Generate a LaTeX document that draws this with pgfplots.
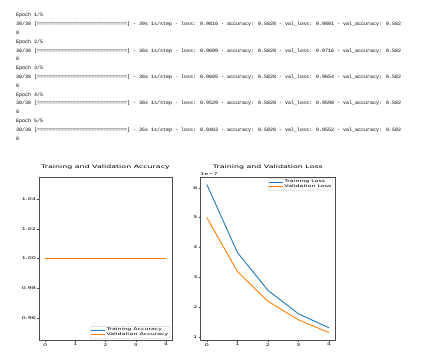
\documentclass[border=0pt]{standalone}
\usepackage{pgfplots}
\pgfplotsset{compat=1.18}
\usepackage{fontspec}
\setmainfont{DejaVu Sans}
\newfontfamily\consolefont{Liberation Mono}
\definecolor{tabblue}{HTML}{1F77B4}
\definecolor{taborange}{HTML}{FF7F0E}
\newcommand{\sq}[1]{\scalebox{1}[0.6]{#1}}
\pgfplotsset{
  mpl/.style={
    scale only axis,
    clip=false,
    height=163pt,
    xmin=-0.2, xmax=4.2,
    xtick={0,1,2,3,4},
    tick pos=left,
    tick align=outside,
    major tick length=2pt,
    axis line style={black!70, line width=0.5pt},
    every tick/.style={black!70, line width=0.4pt},
    /pgf/number format/assume math mode=true,
    tick label style={font=\fontsize{6.3}{7}\selectfont, inner sep=1pt},
    xticklabel={\sq{\pgfmathprintnumber{\tick}}},
    title style={font=\fontsize{7.9}{9}\selectfont, at={(0.5,1)}, anchor=south, yshift=1pt, inner sep=0pt},
    legend cell align=left,
    legend image code/.code={\draw[#1] (0pt,0pt) -- (14pt,0pt);},
    legend style={draw=black!20, rounded corners=1pt, fill=white, inner sep=0.6pt,
      font=\fontsize{6.3}{5}\selectfont, row sep=-1.5pt,
      nodes={inner sep=0.8pt}},
  }
}
\begin{document}
\begin{tikzpicture}
\path[use as bounding box] (0,0) rectangle (445pt,361pt);
\begin{scope}[every node/.style={anchor=base west, inner sep=0pt, font=\consolefont\fontsize{5}{6}\selectfont}]
\node at (16pt,344pt) {Epoch 1/5};
\node at (16pt,335.2pt) {30/30 [==============================] - 39s 1s/step - loss: 0.9816 - accuracy: 0.5828 - val\_loss: 0.9801 - val\_accuracy: 0.582};
\node at (16pt,326.4pt) {8};
\node at (16pt,317.6pt) {Epoch 2/5};
\node at (16pt,308.8pt) {30/30 [==============================] - 36s 1s/step - loss: 0.9699 - accuracy: 0.5828 - val\_loss: 0.9716 - val\_accuracy: 0.582};
\node at (16pt,300pt) {8};
\node at (16pt,291.2pt) {Epoch 3/5};
\node at (16pt,282.4pt) {30/30 [==============================] - 36s 1s/step - loss: 0.9605 - accuracy: 0.5828 - val\_loss: 0.9654 - val\_accuracy: 0.582};
\node at (16pt,273.6pt) {8};
\node at (16pt,264.8pt) {Epoch 4/5};
\node at (16pt,256pt) {30/30 [==============================] - 36s 1s/step - loss: 0.9529 - accuracy: 0.5828 - val\_loss: 0.9598 - val\_accuracy: 0.582};
\node at (16pt,247.2pt) {8};
\node at (16pt,238.4pt) {Epoch 5/5};
\node at (16pt,229.6pt) {30/30 [==============================] - 35s 1s/step - loss: 0.9463 - accuracy: 0.5828 - val\_loss: 0.9552 - val\_accuracy: 0.582};
\node at (16pt,220.8pt) {8};
\end{scope}

\begin{axis}[mpl, at={(39pt,21pt)}, anchor=south west, width=133pt,
  ymin=0.945, ymax=1.055,
  ytick={0.96,0.98,1.00,1.02,1.04},
  yticklabel={\sq{\pgfmathprintnumber[fixed, fixed zerofill, precision=2]{\tick}}},
  title={\sq{Training and Validation Accuracy}},
  legend style={at={(1,0)}, anchor=south east, xshift=-2pt, yshift=1.5pt},
]
\addplot[tabblue, line width=0.9pt] coordinates {(0,1.0) (1,1.0) (2,1.0) (3,1.0) (4,1.0)};
\addlegendentry{\sq{Training Accuracy}}
\addplot[taborange, line width=0.9pt] coordinates {(0,1.0) (1,1.0) (2,1.0) (3,1.0) (4,1.0)};
\addlegendentry{\sq{Validation Accuracy}}
\end{axis}

\begin{axis}[mpl, at={(200.7pt,21pt)}, anchor=south west, width=134.3pt,
  ymin=0.89, ymax=6.36,
  ytick={1,2,3,4,5,6},
  yticklabel={\sq{\pgfmathprintnumber{\tick}}},
  title={\sq{Training and Validation Loss}},
  legend style={at={(1,1)}, anchor=north east, xshift=-2pt, yshift=-1.3pt},
]
\addplot[tabblue, line width=0.9pt] coordinates {(0,6.11) (1,3.83) (2,2.56) (3,1.77) (4,1.30)};
\addlegendentry{\sq{Training Loss}}
\addplot[taborange, line width=0.9pt] coordinates {(0,5.00) (1,3.19) (2,2.19) (3,1.57) (4,1.14)};
\addlegendentry{\sq{Validation Loss}}
\node[anchor=south west, inner sep=0pt, font=\fontsize{6.3}{7}\selectfont, yshift=1.5pt, xshift=-0.5pt] at (rel axis cs:0,1) {\sq{1e−7}};
\end{axis}
\end{tikzpicture}
\end{document}
